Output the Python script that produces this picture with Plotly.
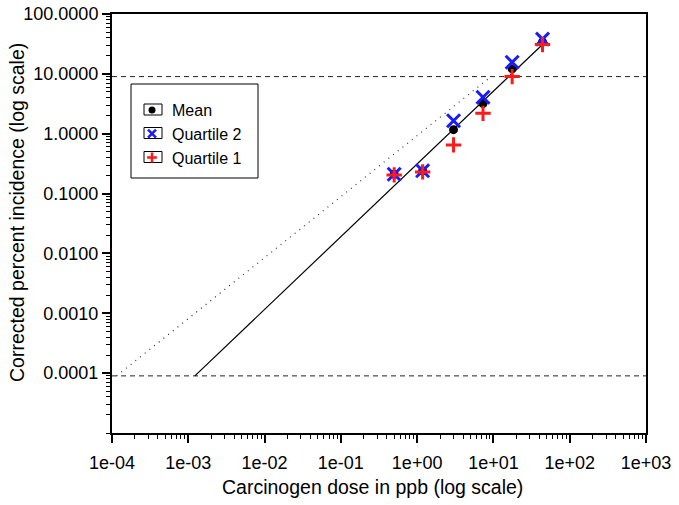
import plotly.graph_objects as go

# ---- data ----
dose = [0.50, 1.18, 3.0, 7.3, 17.6, 44.0]
mean_inc = [0.21, 0.24, 1.17, 3.2, 12.1, 34.0]
q2_inc = [0.21, 0.24, 1.65, 4.06, 15.6, 38.0]
q1_inc = [0.205, 0.23, 0.65, 2.19, 9.0, 31.0]

fit_x = [1.22e-3, 44.0]          # solid fitted line end points
fit_y = [9.0e-5, 31.0]
linear_x = [1.15e-4, 9.5]        # dotted linear extrapolation end points
linear_y = [9.0e-5, 9.2]
ref_levels = [9.0, 9.0e-5]       # dashed horizontal reference levels
x_span = [1e-4, 1e3]

x_tickvals = [1e-4, 1e-3, 1e-2, 1e-1, 1e0, 1e1, 1e2, 1e3]
x_ticktext = ["1e-04", "1e-03", "1e-02", "1e-01", "1e+00", "1e+01", "1e+02", "1e+03"]
y_tickvals = [1e-4, 1e-3, 1e-2, 1e-1, 1e0, 1e1, 1e2]
y_ticktext = ["0.0001", "0.0010", "0.0100", "0.1000", "1.0000", "10.0000", "100.0000"]

FONT = "Liberation Sans, Arial, sans-serif"
BLUE = "#1a1aff"
RED = "#ff1a1a"

fig = go.Figure()

for lvl in ref_levels:
    fig.add_trace(go.Scatter(x=x_span, y=[lvl, lvl], mode="lines",
                             line=dict(color="#222", width=1, dash="5px,4px"),
                             showlegend=False, hoverinfo="skip"))

fig.add_trace(go.Scatter(x=linear_x, y=linear_y, mode="lines",
                         line=dict(color="#333", width=1.2, dash="1px,5px"),
                         showlegend=False, hoverinfo="skip"))
fig.add_trace(go.Scatter(x=fit_x, y=fit_y, mode="lines",
                         line=dict(color="black", width=1.2),
                         showlegend=False, hoverinfo="skip"))

fig.add_trace(go.Scatter(x=dose, y=mean_inc, mode="markers", name="Mean",
                         legendgroup="m", showlegend=False,
                         marker=dict(symbol="circle", size=9, color="black")))
fig.add_trace(go.Scatter(x=dose, y=q2_inc, mode="markers", name="Quartile 2",
                         legendgroup="q2", showlegend=False,
                         marker=dict(symbol="x-thin", size=13,
                                     line=dict(color=BLUE, width=3))))
fig.add_trace(go.Scatter(x=dose, y=q1_inc, mode="markers", name="Quartile 1",
                         legendgroup="q1", showlegend=False,
                         marker=dict(symbol="cross-thin", size=11,
                                     line=dict(color=RED, width=3))))

# legend entries (smaller symbols, like the reference key)
fig.add_trace(go.Scatter(x=[None], y=[None], mode="markers", name="Mean",
                         legendgroup="m",
                         marker=dict(symbol="circle", size=7, color="black")))
fig.add_trace(go.Scatter(x=[None], y=[None], mode="markers", name="Quartile 2",
                         legendgroup="q2",
                         marker=dict(symbol="x-thin", size=8,
                                     line=dict(color=BLUE, width=2.5))))
fig.add_trace(go.Scatter(x=[None], y=[None], mode="markers", name="Quartile 1",
                         legendgroup="q1",
                         marker=dict(symbol="cross-thin", size=7,
                                     line=dict(color=RED, width=2.5))))

# plot-area geometry helpers (paper coordinates)
L, R, T, B = 112, 646, 14, 433
def px(x):
    return (x - L) / (R - L)
def py(y):
    return (B - y) / (B - T)

LEG_LEFT = 132
shapes = [
    dict(type="rect", xref="paper", yref="paper",
         x0=px(131), x1=px(258), y0=py(178), y1=py(84),
         line=dict(color="black", width=1), fillcolor="rgba(0,0,0,0)"),
]
for cy in [109.5, 133, 157]:
    cx = LEG_LEFT + 21
    shapes.append(dict(type="rect", xref="paper", yref="paper",
                       x0=px(cx - 9), x1=px(cx + 9), y0=py(cy + 5.5), y1=py(cy - 5.5),
                       line=dict(color="black", width=1), fillcolor="rgba(0,0,0,0)",
                       layer="below"))

axis_common = dict(
    type="log", showgrid=False, zeroline=False, automargin=False,
    showline=True, linecolor="black", linewidth=2, mirror=True,
    ticks="outside", ticklen=8, tickwidth=1.5, tickcolor="black",
    tickfont=dict(family=FONT, size=18, color="black"),
    minor=dict(ticks="outside", ticklen=4, tickwidth=1, tickcolor="black", dtick="D1"),
)

annotations = [
    dict(text="Carcinogen dose in ppb (log scale)", xref="paper", yref="paper",
         x=px(372.5), y=py(487), xanchor="center", yanchor="middle",
         showarrow=False, font=dict(family=FONT, size=19.5, color="black")),
    dict(text="Corrected percent incidence (log scale)", xref="paper", yref="paper",
         x=px(17), y=py(213), xanchor="center", yanchor="middle", textangle=-90,
         showarrow=False, font=dict(family=FONT, size=19.5, color="black")),
]

fig.update_layout(
    width=679, height=505,
    margin=dict(l=L, r=679 - R, t=T, b=505 - B),
    plot_bgcolor="white", paper_bgcolor="white",
    font=dict(family=FONT, color="black"),
    xaxis=dict(axis_common, range=[-4, 3], tickmode="array",
               tickvals=x_tickvals, ticktext=x_ticktext, ticklabelstandoff=4),
    yaxis=dict(axis_common, range=[-5, 2], tickmode="array",
               tickvals=y_tickvals, ticktext=y_ticktext),
    legend=dict(x=px(LEG_LEFT), y=py(93), xanchor="left", yanchor="top",
                bgcolor="rgba(0,0,0,0)", borderwidth=0,
                font=dict(family=FONT, size=16, color="black"),
                tracegroupgap=0),
    shapes=shapes,
    annotations=annotations,
    showlegend=True,
)

fig.write_html("out.html", config={"displayModeBar": False},
               post_script="document.body.style.margin='0';document.body.style.padding='0';"
                           "document.documentElement.style.overflow='hidden';")
